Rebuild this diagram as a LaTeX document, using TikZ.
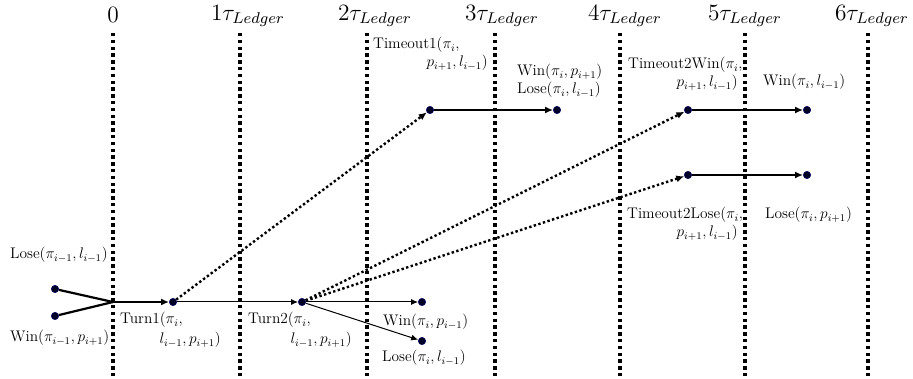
\documentclass[tikz,border=0pt]{standalone}
\usepackage{graphicx}
\usetikzlibrary{arrows.meta}
\newcommand\labsc[1]{\scalebox{1.28}{#1}}
\newcommand\topsc[1]{\scalebox{1.95}{#1}}
\begin{document}
\begin{tikzpicture}[x=1pt,y=-1pt,
  vline/.style={line width=3.2pt,dash pattern=on 3.4pt off 3.4pt},
  dot/.style={circle,fill=black!85!blue,draw=black!60!blue,line width=0.4pt,inner sep=0pt,minimum size=7.5pt},
  thickarr/.style={line width=2.2pt,-{Latex[length=8pt,width=7pt]}},
  thinarr/.style={line width=1.0pt,-{Latex[length=7pt,width=6pt]}},
  dotarr/.style={line width=2.4pt,dash pattern=on 2.4pt off 2.4pt,-{Latex[length=8pt,width=7pt]}},
  lab/.style={inner sep=0pt,font=\fontsize{12}{14}\selectfont},
  toplab/.style={inner sep=0pt,font=\fontsize{12}{14}\selectfont}]
\useasboundingbox (0,0) rectangle (913,379);
% vertical time lines
\foreach \n/\x in {l0/113,l1/240,l2/367,l3/495,l4/620,l5/745,l6/868}{
  \coordinate (\n t) at (\x,33);
  \coordinate (\n b) at (\x,379);
  \draw[vline] (\n t) -- (\n b);
}
% top labels
\node[toplab] (t0) at (113,15) {\topsc{$0$}};
\node[toplab] (t1) at (248,16) {\topsc{$1\tau_{Ledger}$}};
\node[toplab] (t2) at (375,16) {\topsc{$2\tau_{Ledger}$}};
\node[toplab] (t3) at (502,16) {\topsc{$3\tau_{Ledger}$}};
\node[toplab] (t4) at (625,16) {\topsc{$4\tau_{Ledger}$}};
\node[toplab] (t5) at (745,16) {\topsc{$5\tau_{Ledger}$}};
\node[toplab] (t6) at (872,16) {\topsc{$6\tau_{Ledger}$}};
% dots
\node[dot] (a1) at (55,289) {};
\node[dot] (a2) at (55,316) {};
\coordinate (m) at (113,302);
\node[dot] (n1) at (173,302) {};
\node[dot] (n2) at (302,302) {};
\node[dot] (w1) at (422,302) {};
\node[dot] (s1) at (422,341) {};
\node[dot] (o1) at (430,110) {};
\node[dot] (o1e) at (557,110) {};
\node[dot] (o2) at (688,110) {};
\node[dot] (o2e) at (807,110) {};
\node[dot] (o3) at (688,175) {};
\node[dot] (o3e) at (807,175) {};
% connectors
\draw[line width=2.2pt] (a1) -- (m);
\draw[line width=2.2pt] (a2) -- (m);
\draw[thickarr] (m) -- (n1);
\draw[thinarr] (n1) -- (n2);
\draw[thinarr] (n2) -- (w1);
\draw[thinarr] (n2) -- (s1);
\draw[dotarr] (n1) -- (o1);
\draw[dotarr] (n2) -- (o2);
\draw[dotarr] (n2) -- (o3);
\draw[thickarr] (o1) -- (o1e);
\draw[thickarr] (o2) -- (o2e);
\draw[thickarr] (o3) -- (o3e);
% labels
\node[lab,anchor=west] (La) at (10,255) {\labsc{Lose$(\pi_{i-1},l_{i-1})$}};
\node[lab,anchor=west] (Lb) at (10,338) {\labsc{Win$(\pi_{i-1},p_{i+1})$}};
\node[lab,anchor=west] (T1a) at (120,320) {\labsc{Turn1$(\pi_i,$}};
\node[lab,anchor=east] (T1b) at (221,340) {\labsc{$l_{i-1},p_{i+1})$}};
\node[lab,anchor=west] (T2a) at (248,320) {\labsc{Turn2$(\pi_i,$}};
\node[lab,anchor=east] (T2b) at (352,340) {\labsc{$l_{i-1},p_{i+1})$}};
\node[lab,anchor=west] (Wa) at (383,322) {\labsc{Win$(\pi_i,p_{i-1})$}};
\node[lab,anchor=west] (Sa) at (382,358) {\labsc{Lose$(\pi_i,l_{i-1})$}};
\node[lab,anchor=west] (O1a) at (373,45) {\labsc{Timeout1$(\pi_i,$}};
\node[lab,anchor=east] (O1b) at (488,63) {\labsc{$p_{i+1},l_{i-1})$}};
\node[lab,anchor=west] (R1a) at (517,72) {\labsc{Win$(\pi_i,p_{i+1})$}};
\node[lab,anchor=west] (R1b) at (517,90) {\labsc{Lose$(\pi_i,l_{i-1})$}};
\node[lab,anchor=west] (O2a) at (628,65) {\labsc{Timeout2Win$(\pi_i,$}};
\node[lab,anchor=east] (O2b) at (738,83) {\labsc{$p_{i+1},l_{i-1})$}};
\node[lab,anchor=west] (R2) at (763,82) {\labsc{Win$(\pi_i,l_{i-1})$}};
\node[lab,anchor=west] (O3a) at (627,215) {\labsc{Timeout2Lose$(\pi_i,$}};
\node[lab,anchor=east] (O3b) at (738,233) {\labsc{$p_{i+1},l_{i-1})$}};
\node[lab,anchor=west] (R3) at (765,215) {\labsc{Lose$(\pi_i,p_{i+1})$}};
\end{tikzpicture}
\end{document}
